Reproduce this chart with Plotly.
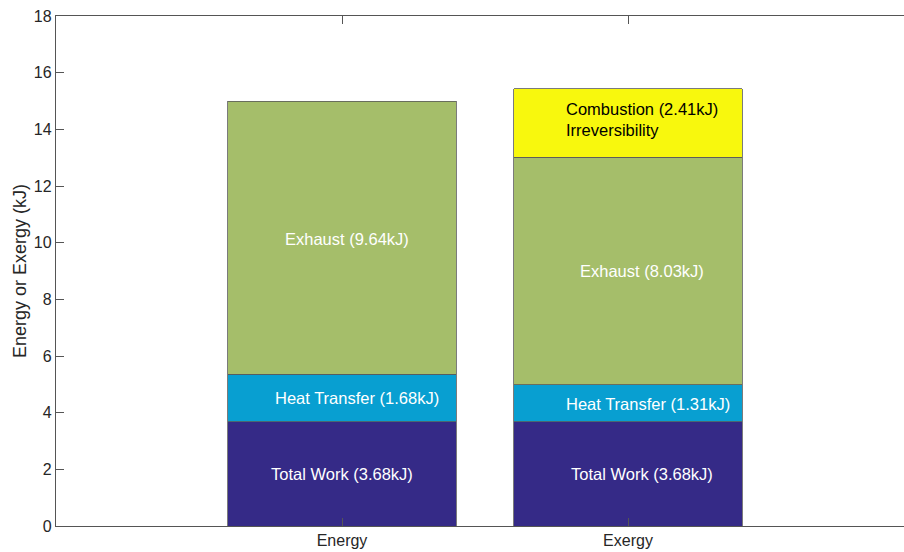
import plotly.graph_objects as go

# Stacked energy / exergy breakdown (kJ)
categories = ["Energy", "Exergy"]
total_work = [3.68, 3.68]
heat_transfer = [1.68, 1.31]
exhaust = [9.64, 8.03]
combustion_irrev = [0.0, 2.41]

y_ticks = [0, 2, 4, 6, 8, 10, 12, 14, 16, 18]

# Label text and anchor positions (data coordinates)
labels = [
    # (x, y, text, colour)
    (0.745, 1.84, "Total Work (3.68kJ)", "white"),
    (0.760, 4.52, "Heat Transfer (1.68kJ)", "white"),
    (0.795, 10.13, "Exhaust (9.64kJ)", "white"),
    (1.793, 1.84, "Total Work (3.68kJ)", "white"),
    (1.777, 4.31, "Heat Transfer (1.31kJ)", "white"),
    (1.826, 9.00, "Exhaust (8.03kJ)", "white"),
    (1.777, 14.72, "Combustion (2.41kJ)", "black"),
    (1.777, 13.98, "Irreversibility", "black"),
]

FONT = "Liberation Sans, Arial, Helvetica, sans-serif"
x_pos = [1, 2]
edge = dict(color="#5a5a5a", width=0.8)

fig = go.Figure()
series = [
    ("Total Work", total_work, "#352a87"),
    ("Heat Transfer", heat_transfer, "#089fd1"),
    ("Exhaust", exhaust, "#a5be6a"),
    ("Combustion Irreversibility", combustion_irrev, "#f8f80d"),
]
for name, vals, col in series:
    xs = [x for x, v in zip(x_pos, vals) if v > 0]
    ys = [v for v in vals if v > 0]
    fig.add_trace(go.Bar(x=xs, y=ys, name=name, width=0.8,
                         marker=dict(color=col, line=edge),
                         hoverinfo="skip"))

for x, y, t, c in labels:
    fig.add_annotation(x=x, y=y, text=t, showarrow=False, xanchor="left",
                       yanchor="middle", font=dict(family=FONT, size=16.5, color=c))

axis_col = "#555555"
fig.update_layout(
    barmode="stack",
    width=904, height=552,
    margin=dict(l=56, r=0, t=16, b=26),
    paper_bgcolor="white", plot_bgcolor="white",
    showlegend=False,
    font=dict(family=FONT, size=16, color="#262626"),
    xaxis=dict(range=[0, 2.965], tickvals=x_pos, ticktext=categories,
               ticks="inside", ticklen=8, tickcolor=axis_col, tickwidth=1.2,
               showline=True, linecolor=axis_col, linewidth=1.3,
               mirror="ticks", showgrid=False, zeroline=False,
               tickfont=dict(size=16, color="#262626")),
    yaxis=dict(range=[0, 18], tickvals=y_ticks,
               ticks="inside", ticklen=8, tickcolor=axis_col, tickwidth=1.2,
               showline=True, linecolor=axis_col, linewidth=1.3,
               showgrid=False, zeroline=False,
               title=dict(text="Energy or Exergy (kJ)", font=dict(size=18, color="#262626"),
                          standoff=2),
               tickfont=dict(size=16, color="#262626")),
)

fig.write_html("out.html")
